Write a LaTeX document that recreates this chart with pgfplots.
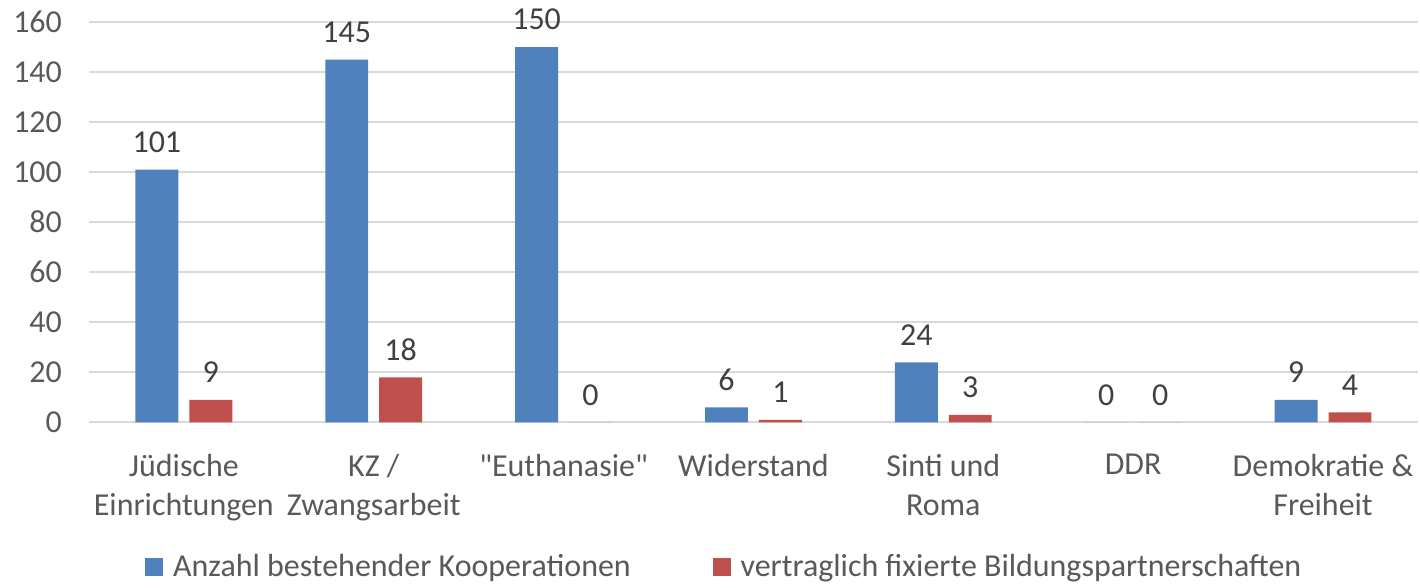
\documentclass[border=0pt]{standalone}
\usepackage{pgfplots}
\pgfplotsset{compat=1.18}
\usepackage{fontspec}
\setmainfont{Carlito}
\newfontfamily\carl{Carlito}
\definecolor{blueS}{HTML}{4F81BD}
\definecolor{redS}{HTML}{C0504D}
\definecolor{gridc}{HTML}{D9D9D9}
\definecolor{txt}{HTML}{595959}
\definecolor{lbl}{HTML}{404040}
\newcommand{\lblfont}{\carl\fontsize{16}{19.5}\selectfont}

\begin{document}
\begin{tikzpicture}
\begin{axis}[
    scale only axis,
    width=665.5pt, height=200.5pt,
    ybar=5.5pt, bar width=21.5pt,
    ymin=0, ymax=160, ytick={0,20,...,160},
    xmin=-0.5, xmax=6.5,
    xtick={0,...,6},
    xticklabels={{Jüdische\\Einrichtungen},{KZ /\\Zwangsarbeit},{"Euthanasie"},{Widerstand},{Sinti und\\Roma},{DDR},{Demokratie \&\\Freiheit}},
    x tick label style={align=center, font=\lblfont, text=txt, anchor=north, yshift=-12.5pt},
    y tick label style={font=\lblfont, text=txt, xshift=-10pt},
    /pgf/number format/assume math mode=true,
    major tick length=0pt,
    axis line style={draw=none},
    ymajorgrids, grid style={gridc, line width=1pt},
    nodes near coords,
    every node near coord/.append style={font=\lblfont, text=lbl, anchor=south, yshift=5pt},
    legend style={at={(0.481,-0.36)}, anchor=center, draw=none, legend columns=2,
        font=\lblfont, text=txt,
        nodes={inner xsep=5pt},
        /tikz/every even column/.append style={column sep=36pt}},
    legend image code/.code={\fill[#1] (-2pt,-4.5pt) rectangle (7pt,4.5pt);},
    clip=false,
]
\addplot[fill=blueS, draw=none] coordinates {(0,101) (1,145) (2,150) (3,6) (4,24) (5,0) (6,9)};
\addplot[fill=redS, draw=none] coordinates {(0,9) (1,18) (2,0) (3,1) (4,3) (5,0) (6,4)};
\legend{Anzahl bestehender Kooperationen, vertraglich fixierte Bildungspartnerschaften}
\path[draw=none] (axis description cs:-0.0669,1.0549) rectangle (axis description cs:1,-0.399);
\end{axis}
\end{tikzpicture}
\end{document}
